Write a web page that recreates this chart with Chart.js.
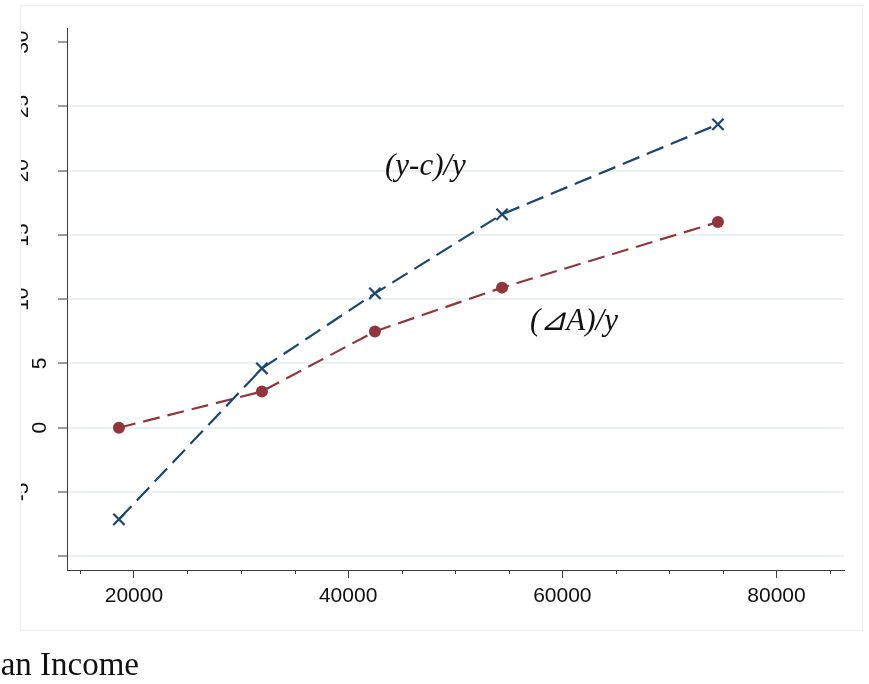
<!DOCTYPE html>
<html>
<head>
<meta charset="utf-8">
<script src="https://cdn.jsdelivr.net/npm/chart.js@4/dist/chart.umd.min.js"></script>
<style>
  html, body { margin: 0; padding: 0; background: #ffffff; }
  #wrap { position: relative; width: 869px; height: 684px; overflow: hidden; background: #fff; }
  #c { position: absolute; left: 0; top: 0; }
  #cover { position: absolute; left: 0; top: 0; width: 20px; height: 640px; background: #fff; }
  #frame { position: absolute; left: 20px; top: 5px; width: 843px; height: 626px; border: 1px solid #eef1f3; box-sizing: border-box; pointer-events: none; }
  #xtitle { position: absolute; right: 730px; top: 648px; font: 33px "Liberation Serif", serif; line-height: 33px; white-space: nowrap; color: #111; }
</style>
</head>
<body>
<div id="wrap">
  <canvas id="c" width="869" height="684"></canvas>
  <div id="cover"></div>
  <div id="frame"></div>
  <div id="xtitle">Mean Income</div>
</div>
<script>
// ---- data ----
const income = [18600, 31950, 42500, 54370, 74530];           // mean income per group
const savingRate = [-7.13, 4.61, 10.45, 16.6, 23.6];          // (y-c)/y
const wealthRate = [0, 2.82, 7.49, 10.9, 16.0];               // (ΔA)/y
const yTicks = [-10, -5, 0, 5, 10, 15, 20, 25, 30];
const yLabelled = [-5, 0, 5, 10, 15, 20, 25, 30];
const xTicks = [15000, 20000, 25000, 30000, 35000, 40000, 45000, 50000, 55000, 60000, 65000, 70000, 75000, 80000, 85000];
const xLabelled = [20000, 40000, 60000, 80000];
const seriesNames = ['(y-c)/y', '(⊿A)/y'];
const labelAnchors = [[43440, 20.3], [56980, 8.2]];   // data coordinates of the in-plot series labels

const navy = '#1a476f';
const maroon = '#90353b';
const gridCol = '#eaf1f3';
const axisCol = '#3a3a3a';

const minorTicks = {
  id: 'minorTicks',
  afterDraw(chart) {
    const xs = chart.scales.x;
    const ctx = chart.ctx;
    ctx.save();
    ctx.strokeStyle = axisCol;
    ctx.lineWidth = 1;
    xTicks.filter(v => !xLabelled.includes(v)).forEach(v => {
      const px = Math.round(xs.getPixelForValue(v)) + 0.5;
      ctx.beginPath();
      ctx.moveTo(px, chart.chartArea.bottom);
      ctx.lineTo(px, chart.chartArea.bottom + 4);
      ctx.stroke();
    });
    ctx.restore();
  }
};

const seriesLabels = {
  id: 'seriesLabels',
  afterDatasetsDraw(chart) {
    const ctx = chart.ctx;
    const xs = chart.scales.x, ys = chart.scales.y;
    ctx.save();
    ctx.fillStyle = '#111';
    ctx.font = 'italic 31px "Liberation Serif", serif';
    ctx.textAlign = 'left';
    ctx.textBaseline = 'middle';
    seriesNames.forEach((name, i) => {
      ctx.fillText(name, xs.getPixelForValue(labelAnchors[i][0]), ys.getPixelForValue(labelAnchors[i][1]));
    });
    ctx.restore();
  }
};

new Chart(document.getElementById('c'), {
  type: 'line',
  data: {
    datasets: [
      {
        label: seriesNames[1],
        data: income.map((x, i) => ({ x, y: wealthRate[i] })),
        borderColor: maroon,
        backgroundColor: maroon,
        borderWidth: 2.2,
        borderDash: [17, 8],
        pointStyle: 'circle',
        pointRadius: 6,
        pointBorderWidth: 0,
        pointBackgroundColor: maroon,
        tension: 0,
        order: 2
      },
      {
        label: seriesNames[0],
        data: income.map((x, i) => ({ x, y: savingRate[i] })),
        borderColor: navy,
        backgroundColor: navy,
        borderWidth: 2.2,
        borderDash: [18, 8],
        pointStyle: 'crossRot',
        pointRadius: 8,
        pointBorderWidth: 2.2,
        pointBorderColor: navy,
        tension: 0,
        order: 1
      }
    ]
  },
  options: {
    responsive: false,
    animation: false,
    devicePixelRatio: 1,
    layout: { padding: { top: 28, right: 25, left: 0, bottom: 0 } },
    plugins: { legend: { display: false }, tooltip: { enabled: false } },
    scales: {
      x: {
        type: 'linear',
        min: 13750,
        max: 86300,
        afterBuildTicks: s => { s.ticks = xTicks.map(v => ({ value: v })); },
        afterFit: s => { s.height = 684 - 570; s.paddingLeft = 0; s.paddingRight = 0; },
        border: { display: true, color: axisCol, width: 1 },
        grid: {
          display: true,
          drawOnChartArea: false,
          drawTicks: true,
          tickLength: 8,
          tickWidth: 1,
          tickColor: c => xLabelled.includes(c.tick && c.tick.value) ? axisCol : 'rgba(0,0,0,0)'
        },
        ticks: {
          autoSkip: false,
          maxRotation: 0,
          minRotation: 0,
          padding: 6,
          color: '#111',
          font: { family: '"Liberation Sans", Arial, sans-serif', size: 21 },
          callback: v => xLabelled.includes(v) ? String(v) : ''
        }
      },
      y: {
        type: 'linear',
        min: -11.07,
        max: 31.1,
        afterBuildTicks: s => { s.ticks = yTicks.map(v => ({ value: v })); },
        afterFit: s => { s.width = 67; s.paddingTop = 0; s.paddingBottom = 0; },
        border: { display: true, color: axisCol, width: 1 },
        grid: {
          display: true,
          drawOnChartArea: true,
          drawTicks: true,
          tickLength: 9,
          lineWidth: 2,
          color: c => (c.tick && c.tick.value === 30) ? 'rgba(0,0,0,0)' : gridCol,
          tickColor: axisCol,
          tickWidth: 1
        },
        ticks: {
          autoSkip: false,
          minRotation: 90,
          maxRotation: 90,
          crossAlign: 'center',
          padding: 6,
          color: '#111',
          font: { family: '"Liberation Sans", Arial, sans-serif', size: 21, lineHeight: 1.7 },
          callback: v => {
            if (!yLabelled.includes(v)) return '';
            const s = String(v);
            return s.length > 1 ? [s, ''] : s;
          }
        }
      }
    }
  },
  plugins: [minorTicks, seriesLabels]
});
</script>
</body>
</html>
